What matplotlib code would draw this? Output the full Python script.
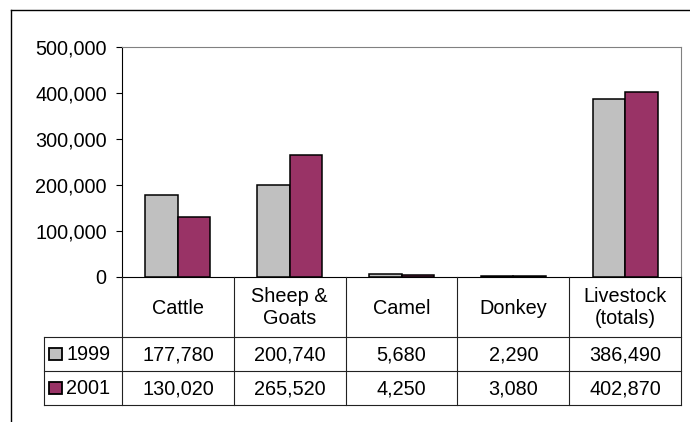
import matplotlib.pyplot as plt
from matplotlib.ticker import FuncFormatter

plt.rcParams["font.family"] = ["Liberation Sans", "DejaVu Sans"]

categories = ["Cattle", "Sheep &\nGoats", "Camel", "Donkey", "Livestock\n(totals)"]
series_names = ["1999", "2001"]
values_1999 = [177780, 200740, 5680, 2290, 386490]
values_2001 = [130020, 265520, 4250, 3080, 402870]
yticks = [0, 100000, 200000, 300000, 400000, 500000]

W, H = 690, 422
colors = ["#C0C0C0", "#993366"]
fs = 14.3

fig = plt.figure(figsize=(W / 100, H / 100), dpi=100)

# plot area in pixel terms
left, right, top, bottom = 122, 681, 47, 277
ax = fig.add_axes([left / W, 1 - bottom / H, (right - left) / W, (bottom - top) / H])

n = len(categories)
bw = 0.29
xs = [i + 0.5 for i in range(n)]
for k, vals in enumerate([values_1999, values_2001]):
    off = (k - 0.5) * bw
    ax.bar([x + off for x in xs], vals, width=bw, color=colors[k],
           edgecolor="black", linewidth=1.1, zorder=3)

ax.set_xlim(0, n)
ax.set_ylim(0, 500000)
ax.set_yticks(yticks)
ax.yaxis.set_major_formatter(FuncFormatter(lambda v, p: f"{int(v):,}"))
ax.tick_params(axis="y", direction="out", length=4.5, width=0.8, pad=6.5, labelsize=fs)
ax.set_xticks([])
ax.spines["left"].set_color("black")
ax.spines["bottom"].set_color("black")
ax.spines["top"].set_color("#808080")
ax.spines["right"].set_color("#808080")
for s in ax.spines.values():
    s.set_linewidth(0.8)

# overlay for the data table and outer frame
ov = fig.add_axes([0, 0, 1, 1], zorder=5)
ov.set_xlim(0, W)
ov.set_ylim(H, 0)
ov.axis("off")
ov.patch.set_alpha(0)

lc = "#222222"
lw = 0.8
# outer chart frame (only top and left visible)
ov.plot([11, W], [10, 10], color="black", lw=1.0)
ov.plot([11, 11], [10, H], color="black", lw=1.0)

col_edges = [left + i * (right - left) / n for i in range(n + 1)]
row_head, row1, row2, row_end = bottom, 337, 371, 405
key_left = 44

for y in [row1, row2, row_end]:
    ov.plot([key_left, right], [y, y], color=lc, lw=lw)
for x in col_edges:
    ov.plot([x, x], [row_head, row_end], color=lc, lw=lw)
ov.plot([key_left, key_left], [row1, row_end], color=lc, lw=lw)

for i, cat in enumerate(categories):
    cx = (col_edges[i] + col_edges[i + 1]) / 2
    ov.text(cx, (row_head + row1) / 2 + 1, cat, ha="center", va="center",
            fontsize=fs, linespacing=1.2)
    ov.text(cx, (row1 + row2) / 2 + 1, f"{values_1999[i]:,}", ha="center",
            va="center", fontsize=fs)
    ov.text(cx, (row2 + row_end) / 2 + 1, f"{values_2001[i]:,}", ha="center",
            va="center", fontsize=fs)

for k, (name, (y0, y1)) in enumerate(zip(series_names, [(row1, row2), (row2, row_end)])):
    cy = (y0 + y1) / 2
    ov.add_patch(plt.Rectangle((49, cy - 6), 13, 12, facecolor=colors[k],
                               edgecolor="black", lw=1.3))
    ov.text(66, cy + 1, name, ha="left", va="center", fontsize=fs)

fig.savefig("out.png", dpi=100)
